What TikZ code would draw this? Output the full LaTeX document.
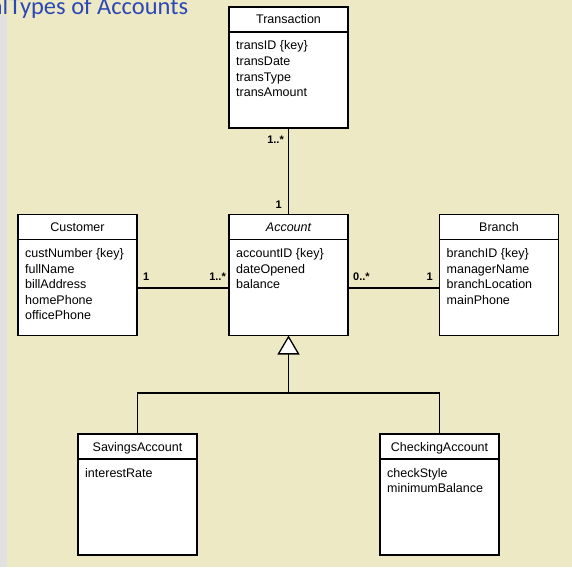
\documentclass[tikz,border=0pt]{standalone}
\usepackage{fontspec}
\setmainfont{Liberation Sans}
\newfontfamily\headfont{Carlito}
\usetikzlibrary{arrows.meta}
\definecolor{paper}{RGB}{236,233,196}
\definecolor{strip}{RGB}{225,225,225}
\definecolor{headblue}{RGB}{45,72,182}

% attribute list: first row sits on the node's baseline
\newcommand\attrlist[1]{\begin{tabular}[t]{@{}l@{}}#1\end{tabular}}

% UML class: name, centre, title, attributes
\newcommand\umlclass[4]{%
  \node[cls] (#1) at #2 {};
  \draw[conn] ([yshift=-25pt]#1.north west) -- ([yshift=-25pt]#1.north east);
  \node[ctitle] (#1-title) at ([yshift=-17pt]#1.north) {#3};
  \node[attrs] (#1-attrs) at ([xshift=7pt,yshift=-43pt]#1.north west) {\attrlist{#4}};
}

\begin{document}
\begin{tikzpicture}[x=1pt,y=-1pt,
  cls/.style={draw=black, line width=1.3pt, fill=white, minimum width=119pt,
    minimum height=121pt, inner sep=0pt, outer sep=0pt},
  ctitle/.style={font=\fontsize{12.5}{15}\selectfont, inner sep=0pt, anchor=base},
  attrs/.style={font=\fontsize{12.5}{15.6}\selectfont, inner sep=0pt, anchor=base west},
  mult/.style={font=\bfseries\fontsize{11}{13}\selectfont, inner sep=0pt},
  conn/.style={line width=1.3pt},
  gentip/.style={-{Triangle[fill=white, length=19pt, width=22pt]}}]

\clip (0,0) rectangle (572,567);
\fill[paper] (0,0) rectangle (572,567);
\fill[strip] (0,15) rectangle (7,567);

\node[anchor=base west, inner sep=0pt, text=headblue,
  font=\headfont\fontsize{24.5}{28}\selectfont] (heading) at (9,15)
  {\llap{al\kern1pt}Types of Accounts};

% classes
\umlclass{trans}{(288.5,67.5)}{Transaction}{transID \{key\}\\transDate\\transType\\transAmount}
\umlclass{cust}{(77.5,275)}{Customer}{custNumber \{key\}\\fullName\\billAddress\\homePhone\\officePhone}
\umlclass{acct}{(288.5,275)}{\itshape Account}{accountID \{key\}\\dateOpened\\balance}
\umlclass{branch}{(499,275)}{Branch}{branchID \{key\}\\managerName\\branchLocation\\mainPhone}
\umlclass{sav}{(137.5,494.5)}{SavingsAccount}{interestRate}
\umlclass{chk}{(439.5,494.5)}{CheckingAccount}{checkStyle\\minimumBalance}

% associations
\draw[conn] (trans.south) -- (acct.north);
\draw[conn] ([yshift=-13pt]cust.east) -- ([yshift=-13pt]acct.west);
\draw[conn] ([yshift=-13pt]acct.east) -- ([yshift=-13pt]branch.west);

% multiplicities
\node[mult, anchor=base east] (m-trans) at (284,143) {1..*};
\node[mult, anchor=base east] (m-acct-top) at (282,208) {1};
\node[mult, anchor=base west] (m-cust) at (143,280) {1};
\node[mult, anchor=base east] (m-acct-left) at (226,280) {1..*};
\node[mult, anchor=base west] (m-acct-right) at (353,280) {0..*};
\node[mult, anchor=base east] (m-branch) at (433,280) {1};

% generalization
\coordinate (split) at (288.5,393);
\draw[conn] (sav.north) |- (split) -| (chk.north);
\draw[conn, gentip] (split) -- (acct.south);
\end{tikzpicture}
\end{document}
